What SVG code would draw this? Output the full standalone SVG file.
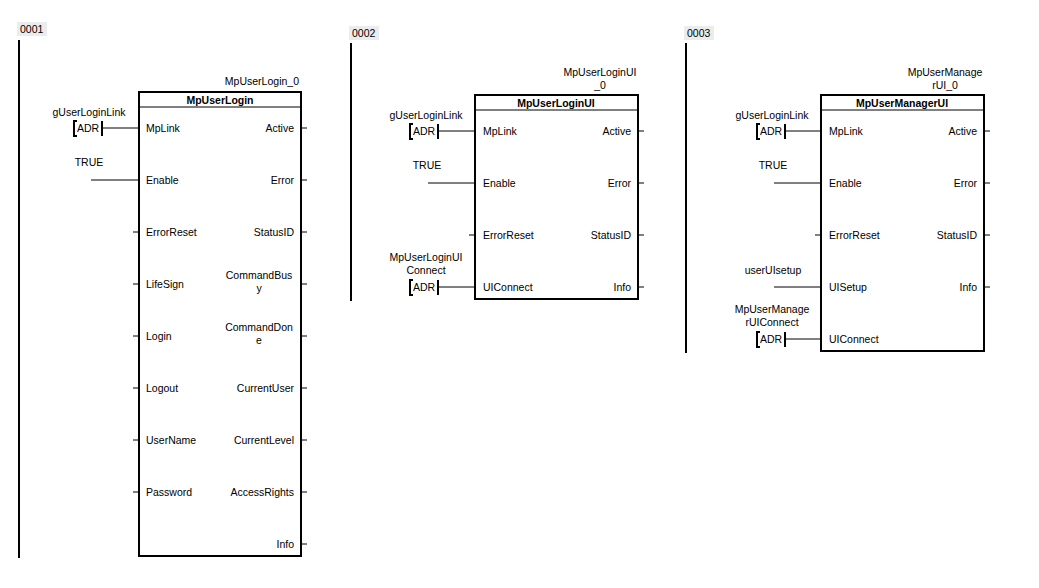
<svg xmlns="http://www.w3.org/2000/svg" width="1039" height="588" viewBox="0 0 1039 588">
<style>
text{font-family:"Liberation Sans",Arial,sans-serif;font-size:10.5px;fill:#000}
.r{text-anchor:end}.m{text-anchor:middle}.b{font-weight:bold}
.rail{stroke:#000;stroke-width:2}
.box{fill:#fff;stroke:#000;stroke-width:2}
.ln{stroke:#000;stroke-width:1;fill:none}
.adr{stroke:#000;stroke-width:2;fill:none}
.lab{fill:#ececec}
</style>
<rect width="1039" height="588" fill="#fff"/>
<g id="rung1">
<rect class="lab" x="17" y="22" width="30" height="14"/><text x="20" y="33">0001</text>
<line class="rail" x1="19" y1="40" x2="19" y2="558"/>
</g>
<g id="rung2">
<rect class="lab" x="349" y="26" width="30" height="14"/><text x="352" y="37">0002</text>
<line class="rail" x1="351" y1="43" x2="351" y2="301"/>
</g>
<g id="rung3">
<rect class="lab" x="684" y="26" width="30" height="14"/><text x="687" y="37">0003</text>
<line class="rail" x1="686" y1="43" x2="686" y2="353"/>
</g>
<g id="connectors">
<path class="ln" d="M102 128H139M91 180H139M133 232H139M133 284H139M133 336H139M133 388H139M133 440H139M133 492H139M301 128H307M301 180H307M301 232H307M301 284H307M301 336H307M301 388H307M301 440H307M301 492H307M301 544H307"/>
<path class="ln" d="M438 131H475M428 183H475M469 235H475M438 287H475M638 131H644M638 183H644M638 235H644M638 287H644"/>
<path class="ln" d="M785 131H821M774 183H821M815 235H821M774 287H821M785 339H821M984 131H990M984 183H990M984 235H990M984 287H990"/>
</g>
<g id="MpUserLogin_0">
<text class="r" x="299" y="85">MpUserLogin_0</text>
<rect class="box" x="139" y="92" width="162" height="464"/>
<line class="ln" x1="139" y1="107" x2="301" y2="107"/>
<text class="m b" x="220" y="104">MpUserLogin</text>
<text x="146" y="132">MpLink</text><text x="146" y="184">Enable</text><text x="146" y="236">ErrorReset</text><text x="146" y="288">LifeSign</text><text x="146" y="340">Login</text><text x="146" y="392">Logout</text><text x="146" y="444">UserName</text><text x="146" y="496">Password</text>
<text class="r" x="294" y="132">Active</text><text class="r" x="294" y="184">Error</text><text class="r" x="294" y="236">StatusID</text>
<text class="m" x="259" y="279">CommandBus</text><text class="m" x="259" y="292">y</text>
<text class="m" x="259" y="331">CommandDon</text><text class="m" x="259" y="344">e</text>
<text class="r" x="294" y="392">CurrentUser</text><text class="r" x="294" y="444">CurrentLevel</text><text class="r" x="294" y="496">AccessRights</text><text class="r" x="294" y="548">Info</text>
</g>
<g id="inputs1">
<text class="m" x="89" y="116">gUserLoginLink</text>
<path class="adr" d="M77 121H74V136H77M102 121V136"/><text x="77" y="132">ADR</text>
<text class="m" x="89" y="166">TRUE</text>
</g>
<g id="MpUserLoginUI_0">
<text class="m" x="600" y="76">MpUserLoginUI</text><text class="m" x="600" y="89">_0</text>
<rect class="box" x="475" y="95" width="163" height="204"/>
<line class="ln" x1="475" y1="110" x2="638" y2="110"/>
<text class="m b" x="556" y="107">MpUserLoginUI</text>
<text x="483" y="135">MpLink</text><text x="483" y="187">Enable</text><text x="483" y="239">ErrorReset</text><text x="483" y="291">UIConnect</text>
<text class="r" x="631" y="135">Active</text><text class="r" x="631" y="187">Error</text><text class="r" x="631" y="239">StatusID</text><text class="r" x="631" y="291">Info</text>
</g>
<g id="inputs2">
<text class="m" x="426" y="119">gUserLoginLink</text>
<path class="adr" d="M413 124H410V139H413M438 124V139"/><text x="413" y="135">ADR</text>
<text class="m" x="427" y="169">TRUE</text>
<text class="m" x="426" y="261">MpUserLoginUI</text><text class="m" x="426" y="274">Connect</text>
<path class="adr" d="M413 280H410V295H413M438 280V295"/><text x="413" y="291">ADR</text>
</g>
<g id="MpUserManagerUI_0">
<text class="m" x="945" y="76">MpUserManage</text><text class="m" x="945" y="89">rUI_0</text>
<rect class="box" x="821" y="95" width="163" height="256"/>
<line class="ln" x1="821" y1="110" x2="984" y2="110"/>
<text class="m b" x="902" y="107">MpUserManagerUI</text>
<text x="829" y="135">MpLink</text><text x="829" y="187">Enable</text><text x="829" y="239">ErrorReset</text><text x="829" y="291">UISetup</text><text x="829" y="343">UIConnect</text>
<text class="r" x="977" y="135">Active</text><text class="r" x="977" y="187">Error</text><text class="r" x="977" y="239">StatusID</text><text class="r" x="977" y="291">Info</text>
</g>
<g id="inputs3">
<text class="m" x="772" y="119">gUserLoginLink</text>
<path class="adr" d="M760 124H757V139H760M785 124V139"/><text x="760" y="135">ADR</text>
<text class="m" x="773" y="169">TRUE</text>
<text class="m" x="773" y="274">userUIsetup</text>
<text class="m" x="772" y="313">MpUserManage</text><text class="m" x="772" y="326">rUIConnect</text>
<path class="adr" d="M760 332H757V347H760M785 332V347"/><text x="760" y="343">ADR</text>
</g>
</svg>
